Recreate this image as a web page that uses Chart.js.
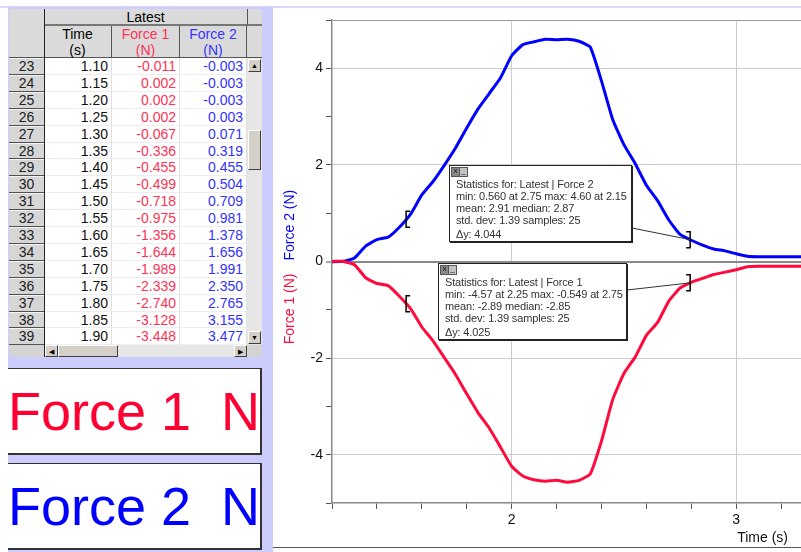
<!DOCTYPE html>
<html>
<head>
<meta charset="utf-8">
<script src="https://cdn.jsdelivr.net/npm/chart.js@4.4.1/dist/chart.umd.min.js"></script>
<style>
  body { margin: 0; width: 801px; height: 552px; overflow: hidden; position: relative; background: #fff;
         font-family: "Liberation Sans", Arial, sans-serif; }
  .abs { position: absolute; box-sizing: border-box; }
  #topline { left: 0; top: 6px; width: 801px; height: 2px; background: #d8d8fa; }
  #side { left: 8px; top: 7px; width: 265px; height: 545px; background: #ccccff; }
  #chartBox { left: 273px; top: 8px; width: 528px; height: 540px; background: #fff; overflow: hidden;
              border-bottom: 1px solid #555; }
  #chartBox canvas { position: absolute; left: 0; top: 0; }
  .meter { left: 8px; width: 254px; height: 87px; background: #fff; border: 1px solid #333; border-left: none;
           border-right-width: 2px; border-bottom-width: 2px; font-size: 54px; line-height: 84px; white-space: pre; }
  .stats { z-index: 5; background: #fff; border: 1px solid #222; box-shadow: 1px 1px 0 #222; font-size: 11px;
           letter-spacing: -0.15px; line-height: 12px; color: #333; padding: 12px 0 0 6px; white-space: nowrap; }
  .stats .dy { margin-top: 2px; }
  .icon { position: absolute; top: 1px; width: 7px; height: 8px; border: 1px solid #555; font-size: 8px;
          line-height: 5px; text-align: center; color: #111; letter-spacing: 0; }
</style>
</head>
<body>
<div id="topline" class="abs"></div>
<div id="side" class="abs"></div>
<div id="grid"></div>
<div class="abs meter" style="top:368px;color:#ff0033">Force 1  N</div>
<div class="abs meter" style="top:463px;color:#0000ff">Force 2  N</div>
<div id="chartBox" class="abs"><canvas id="chart" width="557" height="539"></canvas></div>

<div id="stats2" class="abs stats" style="left:449px;top:165px;width:183px;height:77px"><div class="icon" style="left:1px;background:#8a8a8a">x</div><div class="icon" style="left:9px;background:#c4c4c4">_</div>Statistics for: Latest | Force 2<br>min: 0.560 at 2.75 max: 4.60 at 2.15<br>mean: 2.91 median: 2.87<br>std. dev: 1.39 samples: 25<div class="dy">Δy: 4.044</div></div>
<div id="stats1" class="abs stats" style="left:438px;top:263px;width:189px;height:77px"><div class="icon" style="left:1px;background:#8a8a8a">x</div><div class="icon" style="left:9px;background:#c4c4c4">_</div>Statistics for: Latest | Force 1<br>min: -4.57 at 2.25 max: -0.549 at 2.75<br>mean: -2.89 median: -2.85<br>std. dev: 1.39 samples: 25<div class="dy">Δy: 4.025</div></div>

<script>
/* 시간 (s) */
const times = [1.10, 1.15, 1.20, 1.25, 1.30, 1.35, 1.40, 1.45, 1.50, 1.55, 1.60, 1.65, 1.70, 1.75, 1.80, 1.85, 1.90,
  1.95, 2.00, 2.05, 2.10, 2.15, 2.20, 2.25, 2.30, 2.35, 2.40, 2.45, 2.50, 2.55, 2.60, 2.65, 2.70, 2.75,
  2.80, 2.85, 2.90, 2.95, 3.00, 3.05, 3.10, 3.15, 3.20, 3.25, 3.30, 3.35, 3.40];

/* Force 1 (N) */
const force1 = [-0.011, 0.002, 0.002, 0.002, -0.067, -0.336, -0.455, -0.499, -0.718, -0.975, -1.356, -1.644, -1.989, -2.339, -2.740, -3.128, -3.448,
  -3.84, -4.24, -4.44, -4.52, -4.55, -4.53, -4.57, -4.53, -4.40, -3.72, -2.86, -2.32, -1.98, -1.53, -1.26, -0.82, -0.549,
  -0.43, -0.35, -0.27, -0.22, -0.17, -0.11, -0.10, -0.10, -0.10, -0.10, -0.10, -0.10, -0.10];

/* Force 2 (N) */
const force2 = [-0.003, -0.003, -0.003, 0.003, 0.071, 0.319, 0.455, 0.504, 0.709, 0.981, 1.378, 1.656, 1.991, 2.350, 2.765, 3.155, 3.477,
  3.80, 4.26, 4.49, 4.55, 4.60, 4.59, 4.60, 4.56, 4.44, 3.74, 2.94, 2.42, 2.03, 1.58, 1.26, 0.86, 0.560,
  0.44, 0.34, 0.26, 0.22, 0.16, 0.11, 0.10, 0.10, 0.10, 0.10, 0.10, 0.10, 0.10];

/* x 축 눈금 (0.2 간격, 정수만 라벨) */
const xTicks = [1.2, 1.4, 1.6, 1.8, 2.0, 2.2, 2.4, 2.6, 2.8, 3.0, 3.2, 3.4];

/* 통계 구간 괄호 위치 */
const statsStart = 1.53;
const statsEnd = 2.795;

/* 표에 보이는 행 */
const rowStart = 23;
const rowCount = 17;

const red = '#ff0a3c';
const blue = '#0000ff';

/* ---------- 표 ---------- */
const grid = document.getElementById('grid');
function box(l, t, w, h, css, text) {
  const d = document.createElement('div');
  d.className = 'abs';
  d.style.cssText = `left:${l}px;top:${t}px;width:${w}px;height:${h}px;` + css;
  if (text !== undefined) d.innerHTML = text;
  grid.appendChild(d);
  return d;
}

const head = 'background:#dadada;font-size:14px;line-height:16px;text-align:center;color:#000;';
box(9, 9, 35, 49, 'background:#dadada;border-bottom:1px solid #555;');
box(44, 9, 203, 17, head + 'border-bottom:2px solid #777;', 'Latest');
box(247, 9, 15, 17, 'background:#dadada;border-bottom:2px solid #777;border-left:1px solid #555;');
const cols = [
  { x: 44, w: 68, name: 'Time', unit: 's', color: '#000' },
  { x: 112, w: 68, name: 'Force 1', unit: 'N', color: '#ff3355' },
  { x: 180, w: 67, name: 'Force 2', unit: 'N', color: '#3333ff' },
];
cols.forEach((c) => {
  box(c.x, 26, c.w, 32, head + 'border-right:1px solid #555;border-bottom:1px solid #555;color:' + c.color,
    `${c.name}<br>(${c.unit})`);
});
box(247, 26, 15, 32, 'background:#dadada;border-bottom:1px solid #555;');

const cell = 'background:#fff;border-right:1px solid #e0e0e0;border-bottom:1px solid #eeeeee;text-align:right;' +
  'padding-right:3px;font-size:14px;line-height:16px;';
for (let i = 0; i < rowCount; i++) {
  const y = Math.round(58 + i * 16.9);
  const h = Math.round(58 + (i + 1) * 16.9) - y;
  box(9, y, 35, h, 'background:#d6d6d6;border-top:1px solid #f4f4f4;border-bottom:1px solid #505050;' +
    'text-align:center;font-size:14px;line-height:15px;color:#222;', rowStart + i);
  box(45, y, 67, h, cell + 'color:#111;', times[i].toFixed(2));
  box(112, y, 68, h, cell + 'color:#ff3355;', force1[i].toFixed(3));
  box(180, y, 67, h, cell + 'color:#3333ff;', force2[i].toFixed(3));
}
box(44, 9, 1, 348, 'background:#222;');

/* 스크롤바 */
const btn = 'background:#d4d0c8;border:1px solid;border-color:#fff #404040 #404040 #fff;font-size:7px;line-height:11px;text-align:center;color:#000;';
box(247, 58, 15, 287, 'background:#e6e6e6;');
box(248, 59, 13, 13, btn, '▲');
box(248, 130, 13, 40, btn);
box(248, 331, 13, 13, btn, '▼');
box(9, 345, 35, 12, 'background:#d4d4d4;');
box(45, 345, 202, 12, 'background:#e6e6e6;');
box(45, 345, 13, 12, btn, '◀');
box(58, 345, 60, 12, btn);
box(234, 345, 13, 12, btn, '▶');
box(247, 345, 15, 12, 'background:#d4d4d4;');

/* ---------- 그래프 ---------- */
const isInt = (v) => Math.abs(v - Math.round(v)) < 1e-6;

function valueAt(series, t) {
  for (let i = 0; i < times.length - 1; i++) {
    if (t >= times[i] && t <= times[i + 1]) {
      const f = (t - times[i]) / (times[i + 1] - times[i]);
      return series[i] + f * (series[i + 1] - series[i]);
    }
  }
  return 0;
}

const overlay = {
  id: 'overlay',
  afterDatasetsDraw(chart) {
    const { ctx, scales: { x, y } } = chart;
    const cRect = chart.canvas.getBoundingClientRect();
    const links = [
      { series: force2, el: 'stats2', dy: 63 },
      { series: force1, el: 'stats1', dy: 27 },
    ];
    ctx.save();
    ctx.strokeStyle = '#000';
    ctx.lineWidth = 1.5;
    links.forEach((lk) => {
      [statsStart, statsEnd].forEach((t, k) => {
        const px = x.getPixelForValue(t);
        const py = y.getPixelForValue(valueAt(lk.series, t));
        const dir = k === 0 ? 1 : -1;
        ctx.beginPath();
        ctx.moveTo(px + 4 * dir, py - 8);
        ctx.lineTo(px, py - 8);
        ctx.lineTo(px, py + 8);
        ctx.lineTo(px + 4 * dir, py + 8);
        ctx.stroke();
      });
      const r = document.getElementById(lk.el).getBoundingClientRect();
      const ex = x.getPixelForValue(statsEnd);
      const ey = y.getPixelForValue(valueAt(lk.series, statsEnd));
      ctx.save();
      ctx.lineWidth = 1;
      ctx.strokeStyle = '#333';
      ctx.beginPath();
      ctx.moveTo(r.right - cRect.left, r.top - cRect.top + lk.dy);
      ctx.lineTo(ex, ey);
      ctx.stroke();
      ctx.restore();
    });
    ctx.restore();
  },
  afterDraw(chart) {
    const { ctx, scales: { x, y } } = chart;
    const zeroY = y.getPixelForValue(0);
    ctx.save();
    ctx.font = '14px "Liberation Sans", Arial, sans-serif';
    ctx.textBaseline = 'middle';
    ctx.translate(17, zeroY);
    ctx.rotate(-Math.PI / 2);
    ctx.fillStyle = blue;
    ctx.textAlign = 'left';
    ctx.fillText('Force 2 (N)', 1, 0);
    ctx.fillStyle = red;
    ctx.textAlign = 'right';
    ctx.fillText('Force 1 (N)', -12, 0);
    ctx.restore();

    ctx.save();
    ctx.font = '14px "Liberation Sans", Arial, sans-serif';
    ctx.fillStyle = '#111';
    ctx.textBaseline = 'middle';
    ctx.textAlign = 'left';
    ctx.fillText('Time (s)', x.getPixelForValue(3.0) + 1, 530);
    ctx.restore();
  },
};

Chart.defaults.font.family = '"Liberation Sans", Arial, sans-serif';

new Chart(document.getElementById('chart'), {
  type: 'line',
  data: {
    datasets: [
      {
        label: 'Force 1',
        data: times.map((t, i) => ({ x: t, y: force1[i] })),
        borderColor: red,
      },
      {
        label: 'Force 2',
        data: times.map((t, i) => ({ x: t, y: force2[i] })),
        borderColor: blue,
      },
    ],
  },
  options: {
    responsive: false,
    animation: false,
    layout: { padding: { top: 12, right: 4, left: 0, bottom: 0 } },
    elements: {
      point: { radius: 0 },
      line: { borderWidth: 3, tension: 0.15, borderJoinStyle: 'round', borderCapStyle: 'round' },
    },
    plugins: { legend: { display: false }, tooltip: { enabled: false } },
    scales: {
      x: {
        type: 'linear',
        min: 1.2,
        max: 3.4,
        afterFit: (s) => { s.height = 44; },
        afterBuildTicks: (s) => { s.ticks = xTicks.map((v) => ({ value: v })); },
        ticks: {
          autoSkip: false,
          maxRotation: 0,
          color: '#111',
          font: { size: 14 },
          padding: 3,
          callback: (v) => (isInt(v) ? String(Math.round(v)) : ''),
        },
        grid: {
          color: (c) => (c.tick && isInt(c.tick.value) ? '#cccccc' : 'rgba(0,0,0,0)'),
          tickColor: '#555',
          tickWidth: 1,
          tickLength: 6,
        },
        border: { color: '#888', width: 1.5 },
      },
      y: {
        min: -5,
        max: 5,
        afterFit: (s) => { s.width = 59; },
        ticks: {
          stepSize: 1,
          color: '#111',
          font: { size: 14 },
          padding: 3,
          callback: (v) => (v % 2 === 0 ? String(v) : ''),
        },
        grid: {
          color: (c) => {
            const v = c.tick ? c.tick.value : null;
            if (v === 0) return '#888888';
            if (v === 5) return '#999999';
            if (v % 2 === 0) return '#cccccc';
            return 'rgba(0,0,0,0)';
          },
          lineWidth: (c) => (c.tick && c.tick.value === 0 ? 2 : 1),
          tickColor: '#555',
          tickWidth: 1,
          tickLength: 6,
        },
        border: { color: '#888', width: 1.5 },
      },
    },
  },
  plugins: [overlay],
});
</script>
</body>
</html>
